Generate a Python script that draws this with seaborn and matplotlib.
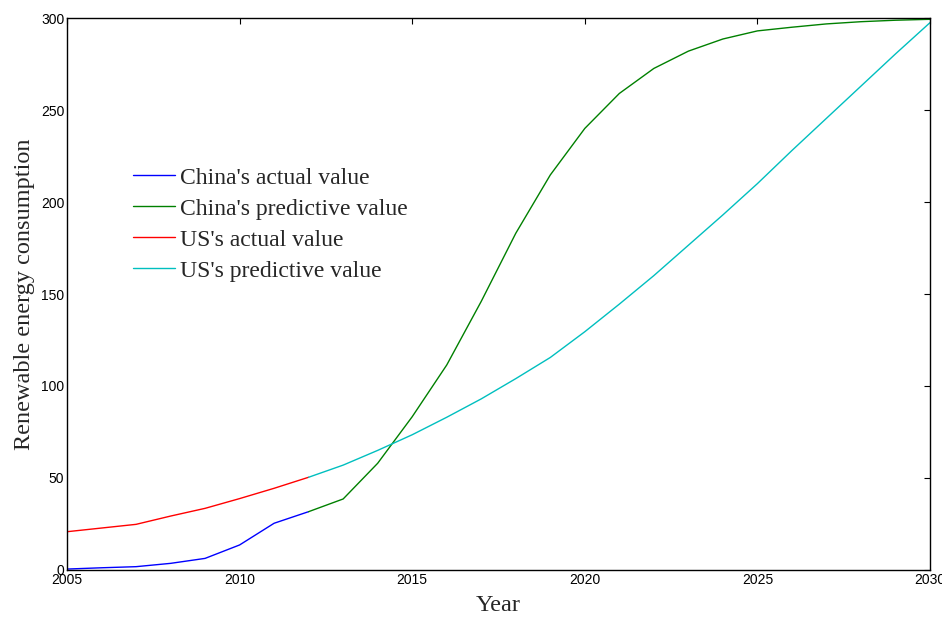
import numpy as np
import pandas as pd
import matplotlib
matplotlib.use('Agg')
import matplotlib.pyplot as plt
import seaborn as sns

# values
china_actual_years = [2005, 2006, 2007, 2008, 2009, 2010, 2011, 2012]
china_actual = [0.5, 1.2, 1.8, 3.6, 6.3, 13.6, 25.4, 31.7]

china_pred_years = [2012, 2013, 2014, 2015, 2016, 2017, 2018, 2019, 2020, 2021,
                    2022, 2023, 2024, 2025, 2026, 2027, 2028, 2029, 2030]
china_pred = [31.7, 38.6, 58.0, 83.3, 111.4, 146.0, 183.0, 214.7, 240.0, 259.0,
              272.6, 282.0, 288.6, 293.0, 295.0, 296.8, 298.0, 298.8, 299.3]

us_actual_years = [2005, 2006, 2007, 2008, 2009, 2010, 2011, 2012]
us_actual = [20.8, 22.8, 24.8, 29.3, 33.5, 38.8, 44.4, 50.4]

us_pred_years = [2012, 2013, 2014, 2015, 2016, 2017, 2018, 2019, 2020, 2021,
                 2022, 2023, 2024, 2025, 2026, 2027, 2028, 2029, 2030]
us_pred = [50.4, 57.0, 65.0, 73.5, 83.0, 93.0, 104.0, 115.5, 129.5, 144.5,
           160.0, 176.5, 193.0, 210.0, 228.0, 245.5, 263.0, 280.5, 297.5]

series_names = ["China's actual value", "China's predictive value",
                "US's actual value", "US's predictive value"]
colors = ['#0000ff', '#008000', '#ff0000', '#00bfbf']

frames = []
for name, yrs, vals in zip(series_names,
                           [china_actual_years, china_pred_years, us_actual_years, us_pred_years],
                           [china_actual, china_pred, us_actual, us_pred]):
    frames.append(pd.DataFrame({'Year': yrs, 'value': vals, 'series': name}))
df = pd.concat(frames, ignore_index=True)

sns.set_style('white')
plt.rcParams['font.family'] = ['Liberation Sans', 'DejaVu Sans']

fig = plt.figure(figsize=(9.42, 6.17), dpi=100)
ax = fig.add_axes([0.0711, 0.0762, 0.9162, 0.8946])

sns.lineplot(data=df, x='Year', y='value', hue='series', hue_order=series_names,
             palette=colors, linewidth=1.0, ax=ax, estimator=None, sort=False)

ax.set_xlim(2005, 2030)
ax.set_ylim(0, 300)
ax.set_xticks([2005, 2010, 2015, 2020, 2025, 2030])
ax.set_yticks([0, 50, 100, 150, 200, 250, 300])
ax.tick_params(direction='in', length=4, width=0.8, top=True, right=True,
               labelsize=10, pad=2, colors='black')
for lab in ax.get_xticklabels() + ax.get_yticklabels():
    lab.set_family(['Liberation Sans Narrow', 'Liberation Sans'])
for sp in ax.spines.values():
    sp.set_color('black')
    sp.set_linewidth(1.0)

serif = ['Liberation Serif', 'DejaVu Serif']
ax.set_xlabel('Year', fontsize=17.5, family=serif, labelpad=6)
ax.set_ylabel('Renewable energy consumption', fontsize=17.5, family=serif, labelpad=4)

leg = ax.legend(loc='upper left', bbox_to_anchor=(0.065, 0.747), frameon=False,
                prop={'family': serif, 'size': 17}, handlelength=1.8,
                handletextpad=0.2, labelspacing=0.4, borderaxespad=0)

fig.savefig('out.png', dpi=100)
